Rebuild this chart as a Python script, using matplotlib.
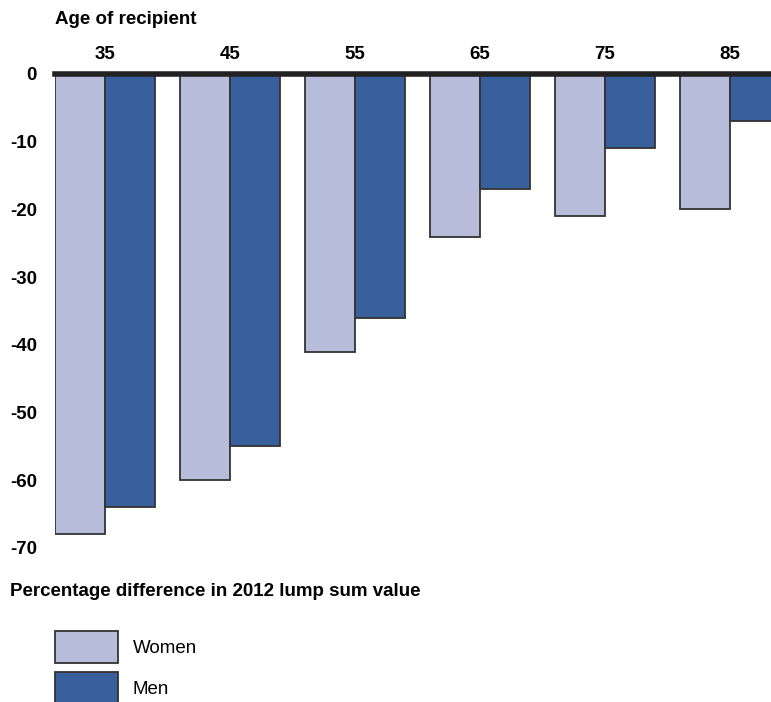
import numpy as np
import matplotlib.pyplot as plt
from matplotlib.patches import Patch

plt.rcParams['font.family'] = ['Liberation Sans', 'DejaVu Sans']

# data
ages = ['35', '45', '55', '65', '75', '85']
women = [-68, -60, -41, -24, -21, -20]
men = [-64, -55, -36, -17, -11, -7]
yticks = [0, -10, -20, -30, -40, -50, -60, -70]

women_color = '#b8bcdb'
men_color = '#38609c'
edge = '#333333'
fs = 13.5

fig = plt.figure(figsize=(7.71, 7.02), dpi=100)
ax = fig.add_axes([55 / 771, 1 - 548 / 702, 1 - 55 / 771, (548 - 74) / 702])

x = np.arange(len(ages))
w = 0.4
ax.bar(x - w / 2, women, width=w, color=women_color, edgecolor=edge, linewidth=1.3, label='Women')
ax.bar(x + w / 2, men, width=w, color=men_color, edgecolor=edge, linewidth=1.3, label='Men')

ax.axhline(0, color='#222222', linewidth=4, clip_on=False, zorder=5)

ax.set_xlim(-0.4, -0.4 + 716 / 125)
ax.set_ylim(-70, 0)

ax.xaxis.tick_top()
ax.set_xticks(x)
ax.set_xticklabels(ages, fontsize=fs, fontweight='bold')
ax.tick_params(axis='x', length=0, pad=8)
ax.set_yticks(yticks)
ax.set_yticklabels([str(v) for v in yticks], fontsize=fs, fontweight='bold')
ax.tick_params(axis='y', length=0, pad=13)
for s in ax.spines.values():
    s.set_visible(False)

fig.text(55 / 771, 1 - 20 / 702, 'Age of recipient', fontsize=fs, fontweight='bold',
         ha='left', va='center')
fig.text(10 / 771, 1 - 592 / 702, 'Percentage difference in 2012 lump sum value',
         fontsize=fs, fontweight='bold', ha='left', va='center')

handles = [Patch(facecolor=women_color, edgecolor=edge, linewidth=1.3, label='Women'),
           Patch(facecolor=men_color, edgecolor=edge, linewidth=1.3, label='Men')]
fig.legend(handles=handles, loc='upper left', bbox_to_anchor=(55 / 771, 1 - 631 / 702),
           frameon=False, fontsize=fs, handlelength=3.36, handleheight=2.25,
           labelspacing=0.48, handletextpad=0.8, borderpad=0, borderaxespad=0)

fig.savefig('out.png', dpi=100)
